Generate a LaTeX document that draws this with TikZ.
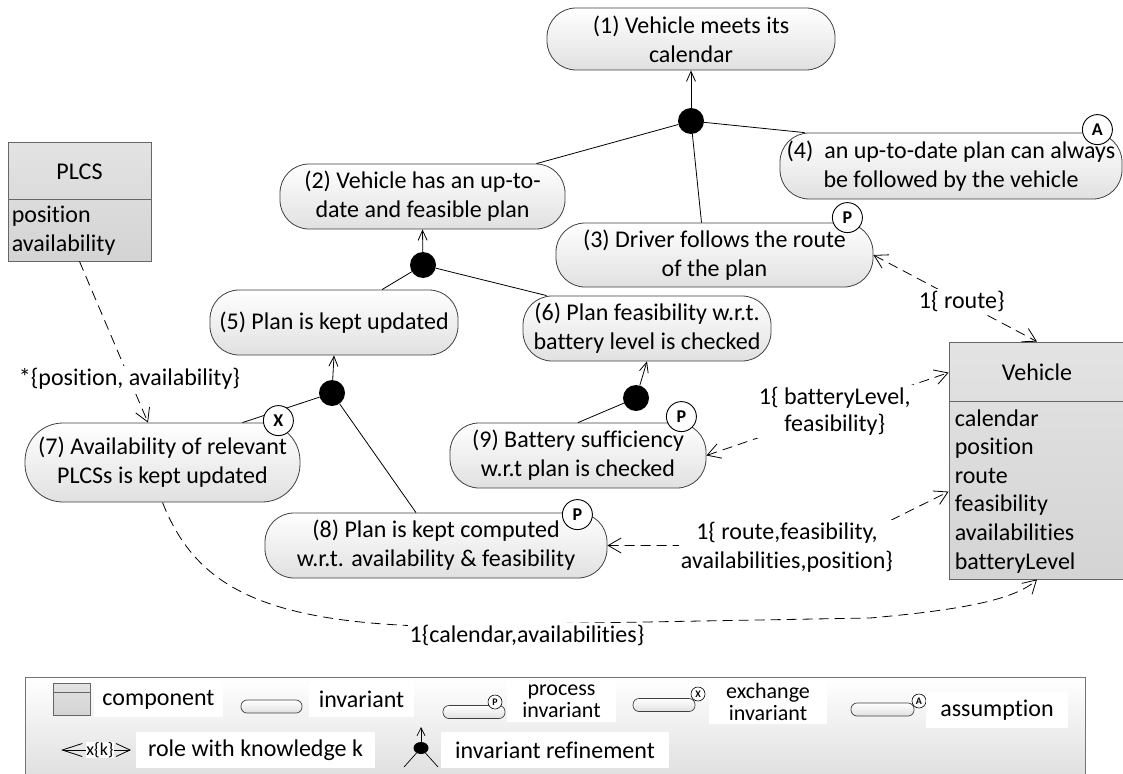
\documentclass[tikz,border=0pt]{standalone}
\usepackage{fontspec}
\setmainfont{Carlito}[Ligatures=CommonOff]
\usetikzlibrary{arrows.meta,calc,shapes.geometric}
\begin{document}
\begin{tikzpicture}[x=1pt,y=-1pt,
  every node/.style={font=\fontsize{24}{28.8}\selectfont, inner sep=2pt},
  inv/.style={draw=black!75, line width=0.8pt, rounded corners=29pt, top color=white, bottom color=black!12, align=center, inner sep=0pt},
  rdot/.style={circle, fill=black, minimum size=26pt, inner sep=0pt},
  badge/.style={circle, draw=black, fill=white, line width=0.9pt, minimum size=30pt, inner sep=0pt, font=\fontsize{18}{20}\selectfont\bfseries},
  sbadge/.style={circle, draw=black, fill=white, line width=0.6pt, minimum size=14pt, inner sep=0pt, font=\fontsize{10}{11}\selectfont\bfseries},
  refl/.style={line width=0.8pt},
  refa/.style={line width=0.8pt, -{Straight Barb[length=10pt,width=9pt]}},
  know/.style={line width=0.8pt, dash pattern=on 10pt off 6pt},
  kto/.style={know, -{Straight Barb[length=13pt,width=15pt]}},
  kboth/.style={know, {Straight Barb[length=13pt,width=15pt]}-{Straight Barb[length=13pt,width=15pt]}},
  lab/.style={fill=white, inner sep=2pt, align=center},
  comp/.style={draw=black!60, line width=0.8pt, top color=black!11, bottom color=black!17, inner sep=0pt},
  legtxt/.style={fill=white, inner sep=0pt, align=center},
  icon/.style={draw=black!75, line width=0.7pt, rounded corners=6pt, top color=white, bottom color=black!12, inner sep=0pt, minimum height=13pt},
]
\fill[white] (0,0) rectangle (1123,773);
\useasboundingbox (0,0) rectangle (1123,773);

% ---------- invariants ----------
\node[inv, minimum width=288pt, minimum height=62pt] (n1) at (691,39) {(1) Vehicle meets its\\calendar};
\node[inv, minimum width=285pt, minimum height=65pt] (n2) at (422.5,196.5) {(2) Vehicle has an up-to-\\date and feasible plan};
\node[inv, minimum width=317pt, minimum height=64pt] (n3) at (714.5,255) {(3) Driver follows the route\\of the plan};
\node[inv, minimum width=342pt, minimum height=66pt] (n4) at (951,166) {(4)\ \ an up-to-date plan can always\\be followed by the vehicle};
\node[inv, minimum width=248pt, minimum height=65pt] (n5) at (334,322.5) {(5) Plan is kept updated};
\node[inv, minimum width=248pt, minimum height=65pt] (n6) at (647,328.5) {(6) Plan feasibility w.r.t.\\battery level is checked};
\node[inv, rounded corners=38pt, minimum width=275pt, minimum height=79pt] (n7) at (162.5,462.5) {(7) Availability of relevant\\PLCSs is kept updated};
\node[inv, minimum width=342pt, minimum height=65pt] (n8) at (436,545.5) {(8) Plan is kept computed\\w.r.t. availability \& feasibility};
\node[inv, minimum width=256pt, minimum height=65pt] (n9) at (578,455.5) {(9) Battery sufficiency\\w.r.t plan is checked};

% ---------- components ----------
\node[comp, minimum width=143pt, minimum height=119pt] (plcs) at (79.5,201.5) {};
\draw[black!60, line width=0.8pt] ($(plcs.north west)+(0,58)$) -- ($(plcs.north east)+(0,58)$);
\node (plcst) at ($(plcs.north)+(0,30)$) {PLCS};
\node[anchor=west, align=left] (plcsa) at ($(plcs.north west)+(2,89)$) {position\\availability};

\node[comp, minimum width=176pt, minimum height=237pt] (veh) at (1037,460.5) {};
\draw[black!60, line width=0.8pt] ($(veh.north west)+(0,60)$) -- ($(veh.north east)+(0,60)$);
\node (veht) at ($(veh.north)+(0,31)$) {Vehicle};
\node[anchor=west, align=left, font=\fontsize{24}{28.6}\selectfont] (veha) at ($(veh.north west)+(4,149.5)$) {calendar\\position\\route\\feasibility\\availabilities\\batteryLevel};

% ---------- refinement dots ----------
\node[rdot] (d1) at (691,121) {};
\node[rdot] (d2) at (423,265) {};
\node[rdot] (d3) at (332,393) {};
\node[rdot] (d4) at (636,398) {};

\draw[refa] (d1) -- (n1.south);
\draw[refl] (d1) -- ([xshift=-29pt]n2.north east);
\draw[refl] (d1) -- ([xshift=-13pt]n3.north);
\draw[refl] (d1) -- ([xshift=25pt]n4.north west);
\draw[refa] (d2) -- (n2.south);
\draw[refl] (d2) -- ([xshift=48pt]n5.north);
\draw[refl] (d2) -- ([xshift=24pt]n6.north west);
\draw[refa] (d3) -- (n5.south);
\draw[refl] (d3) -- ([xshift=-58pt]n7.north east);
\draw[refl] (d3) -- ([xshift=-20pt]n8.north);
\draw[refa] (d4) -- (n6.south);
\draw[refl] (d4) -- (n9.north);

% ---------- badges ----------
\node[badge] (bA) at ($(n4.north east)+(-25,-3)$) {A};
\node[badge] (bP3) at ($(n3.north east)+(-26,-5)$) {P};
\node[badge] (bX) at ($(n7.north east)+(-22,-2)$) {X};
\node[badge] (bP9) at ($(n9.north east)+(-25,-6)$) {P};
\node[badge] (bP8) at ($(n8.north east)+(-30,2)$) {P};

% ---------- knowledge connectors ----------
\draw[kto] (plcs.south) -- node[lab, pos=0.73] (l1) {*\{position, availability\}} ([xshift=-14.5pt]n7.north);
\draw[kboth] (n3.east) -- node[lab, pos=0.54] (l2) {1\{ route\}} (veh.north);
\draw[kboth] (n9.east) -- node[lab, pos=0.53, font=\fontsize{24}{27}\selectfont] (l3) {1\{ batteryLevel,\\feasibility\}} ($(veh.north west)+(0,31)$);
\coordinate (c4) at (840,545.5);
\draw[kboth] (n8.east) -- (c4) -- ($(veh.north west)+(0,150)$);
\node[lab] (l4) at (787,547) {1\{ route,feasibility,\\availabilities,position\}};
\draw[kto] (n7.south) .. controls (195,585) and (260,620) .. (420,626) -- (870,618) .. controls (960,610) and (1015,600) .. (veh.south);
\node[lab] (l5) at (527,635) {1\{calendar,availabilities\}};

% ---------- legend ----------
\node[draw=black!55, line width=0.8pt, top color=white, bottom color=black!13, minimum width=1060pt, minimum height=104pt, inner sep=0pt] (leg) at (555,729) {};

\node[comp, minimum width=37pt, minimum height=32pt] (lc) at (71.5,699) {};
\draw[black!60, line width=0.7pt] ($(lc.north west)+(0,10)$) -- ($(lc.north east)+(0,10)$);
\node[legtxt, minimum width=129pt, minimum height=35pt] (lct) at (158.5,699.5) {component};

\node[icon, minimum width=61pt] (li) at (271.5,706.5) {};
\node[legtxt, minimum width=105pt, minimum height=35pt] (lit) at (361.5,699.5) {invariant};

\node[icon, minimum width=62pt] (lp) at (474,712) {};
\node[sbadge] (lpb) at (495,702) {P};
\node[legtxt, minimum width=109pt, minimum height=42pt, font=\fontsize{22}{22}\selectfont] (lpt) at (561.5,701) {process\\invariant};

\node[icon, minimum width=62pt] (lx) at (664,705) {};
\node[sbadge] (lxb) at (698,694) {X};
\node[legtxt, minimum width=118pt, minimum height=44pt, font=\fontsize{22}{22}\selectfont] (lxt) at (768,702) {exchange\\invariant};

\node[icon, minimum width=63pt] (la) at (882.5,709.5) {};
\node[sbadge] (lab) at (919,701) {A};
\node[legtxt, minimum width=142pt, minimum height=36pt] (lat) at (997,710) {assumption};

\coordinate (lr1) at (61,750);
\coordinate (lr2) at (131,750);
\draw[line width=0.8pt, {Straight Barb[length=20pt,width=13pt]}-{Straight Barb[length=14pt,width=13pt]}] (lr1) -- (lr2);
\node[fill=white, inner sep=0.5pt, font=\fontsize{18}{20}\selectfont] (lrk) at (100,750) {x\{k\}};
\node[legtxt, minimum width=239pt, minimum height=36pt] (lrt) at (255.5,750) {role with knowledge k};

\node[ellipse, fill=black, minimum width=15pt, minimum height=12pt, inner sep=0pt] (le) at (421,748) {};
\coordinate (le1) at (421,727);
\coordinate (le2) at (404,767);
\coordinate (le3) at (438,767);
\draw[line width=0.7pt, -{Straight Barb[length=8pt,width=8pt]}] (le) -- (le1);
\draw[line width=0.7pt] (le) -- (le2);
\draw[line width=0.7pt] (le) -- (le3);
\node[legtxt, minimum width=228pt, minimum height=36pt] (let) at (555,750) {invariant refinement};
\end{tikzpicture}
\end{document}
